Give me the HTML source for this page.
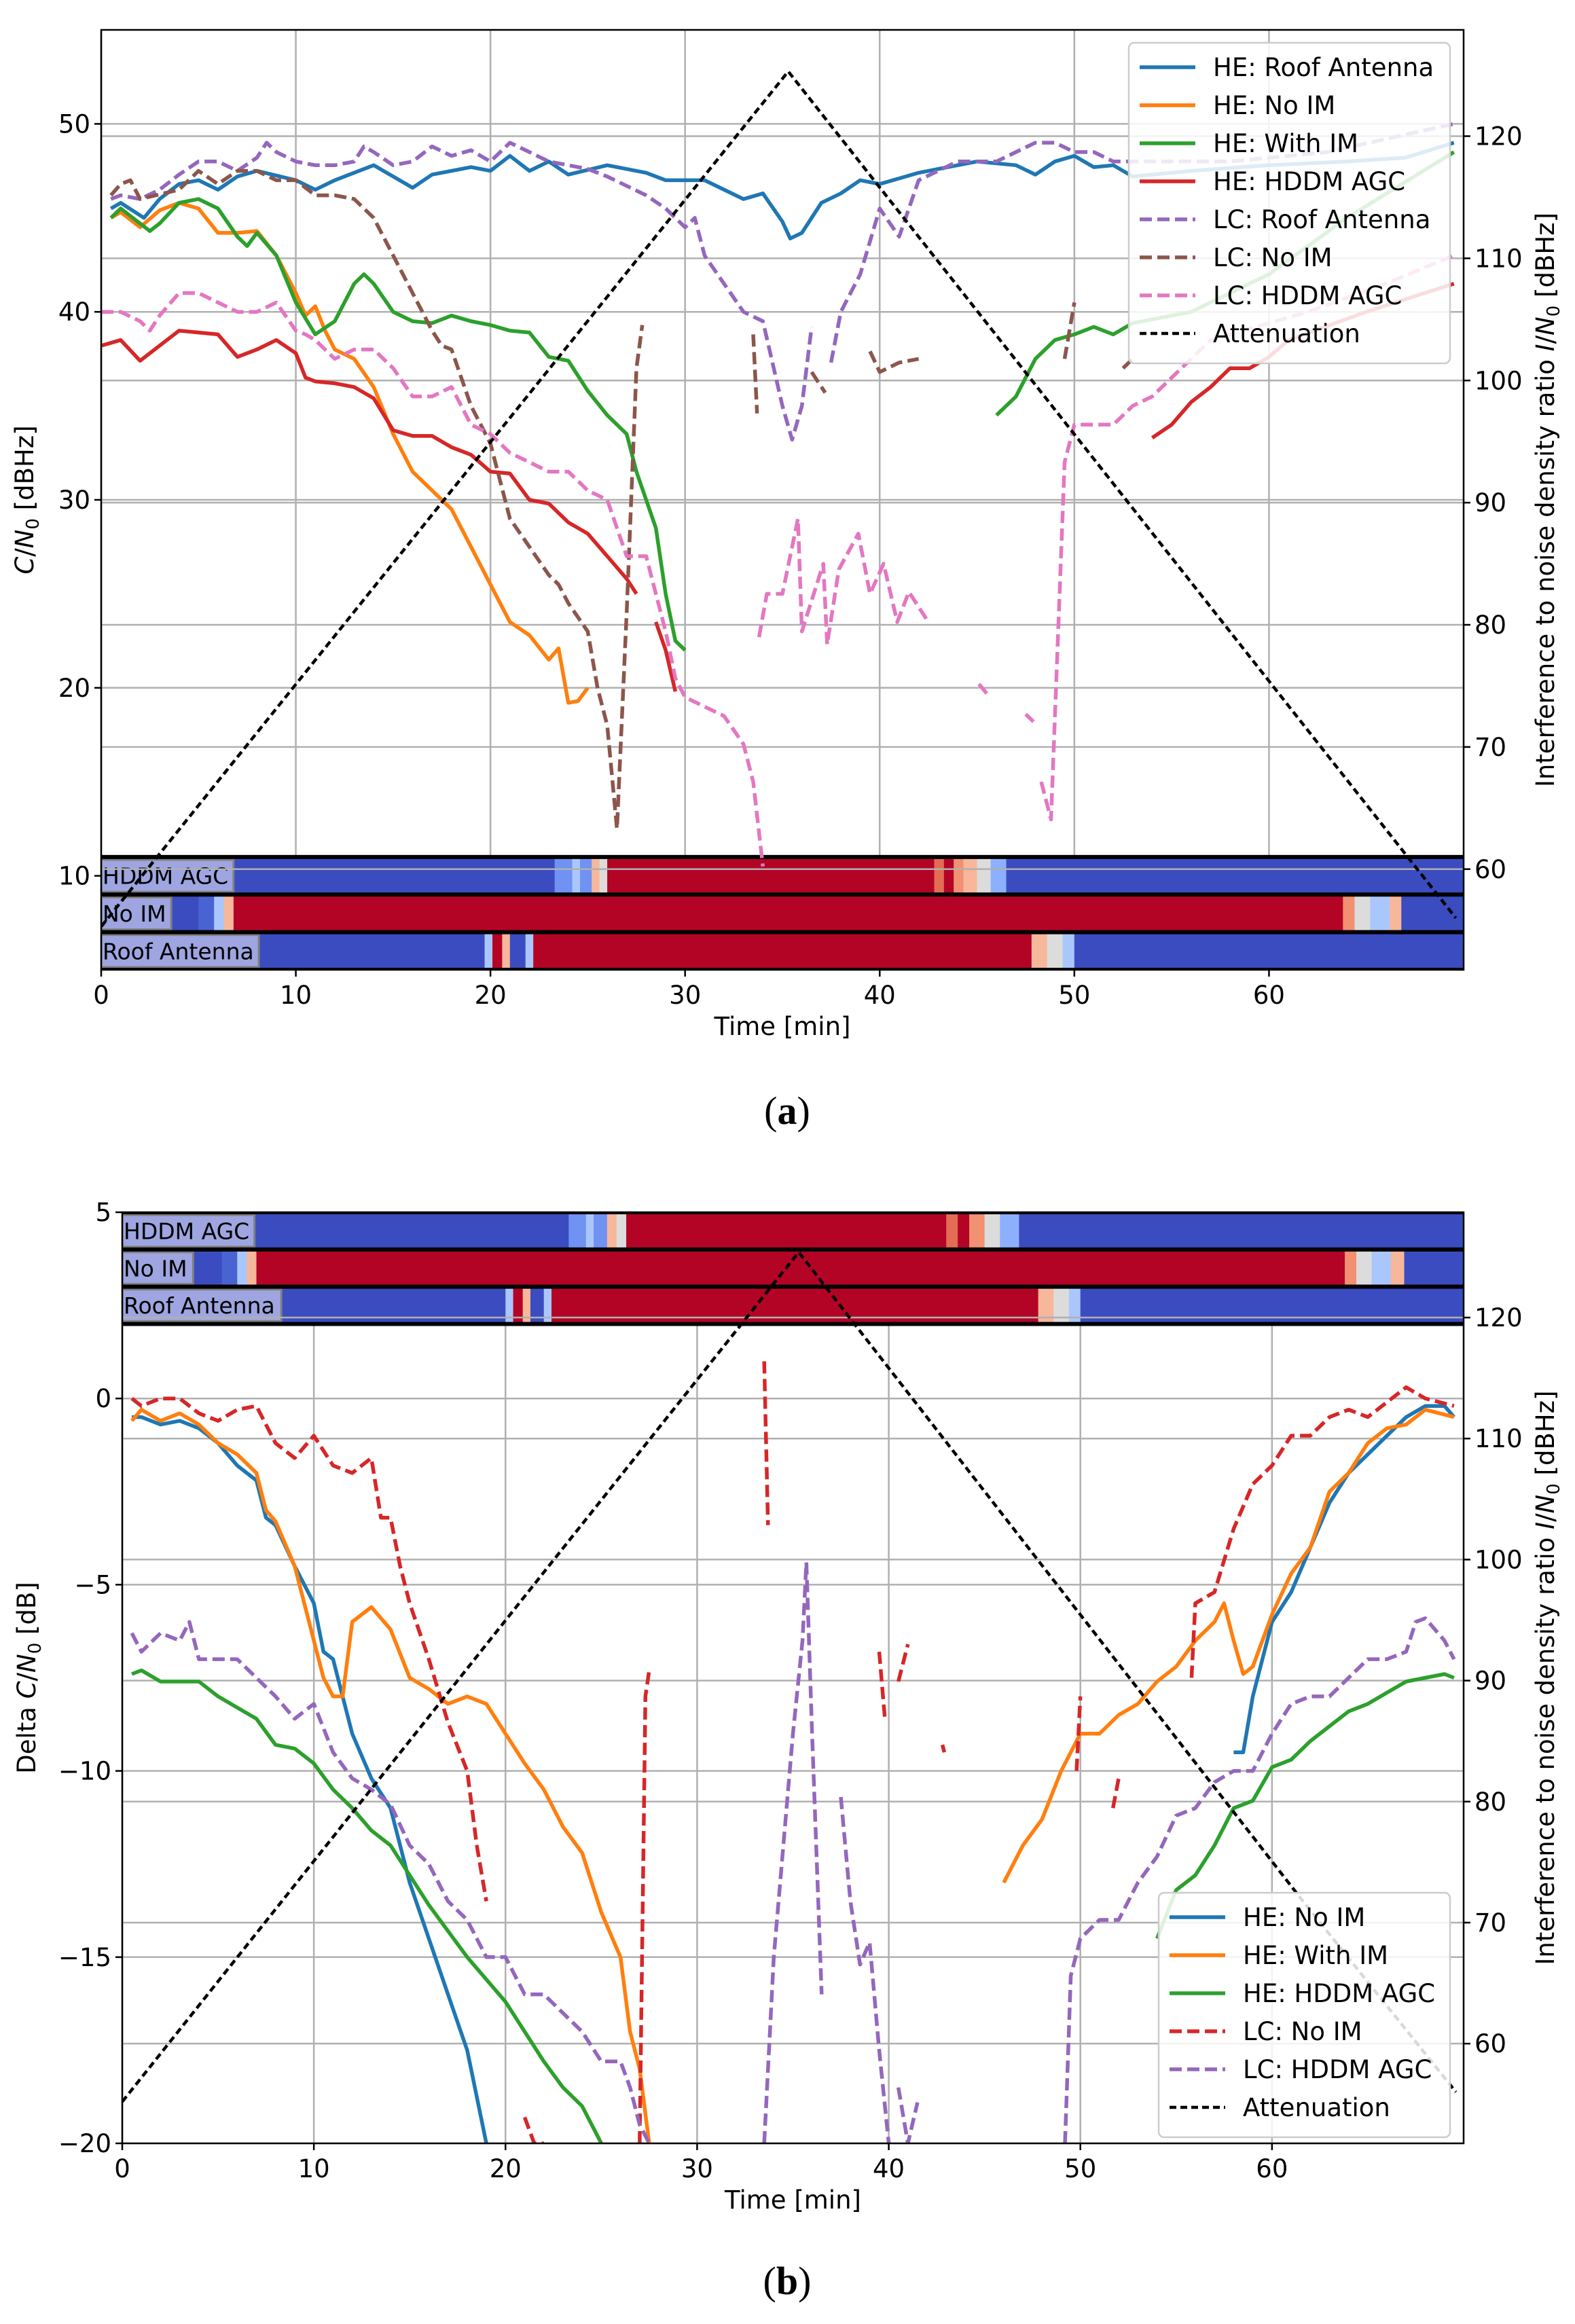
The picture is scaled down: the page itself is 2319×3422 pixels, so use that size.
<!DOCTYPE html>
<html><head><meta charset="utf-8"><style>
html,body{margin:0;padding:0;background:#fff;}
svg{display:block;font-family:"DejaVu Sans","Liberation Sans",sans-serif;}
</style></head><body>
<svg id="fig" width="2319" height="3422" viewBox="0 0 2319 3422" xmlns="http://www.w3.org/2000/svg">
<rect width="2319" height="3422" fill="#fff"/>
</svg>
<script>
// ---------- data: panel (a) ----------
const aHERoof=[[0.5,45.5],[1,45.8],[2.2,45],[3,46],[4,46.8],[5,47],[6,46.5],[7,47.2],[8,47.5],[10,47],[11,46.5],[12,47],[14,47.8],[15,47.2],[16,46.6],[17,47.3],[19,47.7],[20,47.5],[21,48.3],[22,47.5],[23,48],[24,47.3],[26,47.8],[28,47.4],[29,47],[31,47],[33,46],[34,46.3],[35,44.8],[35.4,43.9],[36,44.2],[37,45.8],[38,46.3],[39,47],[40,46.8],[42,47.4],[44,47.8],[45,48],[47,47.8],[48,47.3],[49,48],[50,48.3],[51,47.7],[52,47.8],[53,47.2],[56,47.5],[60,47.8],[64,48],[67,48.2],[69.5,49]];
const aHENoIM=[[0.5,45],[1,45.3],[2,44.5],[3,45.4],[4,45.8],[5,45.5],[6,44.2],[7,44.2],[8,44.3],[9,43],[10,41],[10.5,39.8],[11,40.3],[11.5,39],[12,38],[13,37.5],[14,36],[15,33.5],[16,31.5],[17,30.5],[18,29.5],[19,27.5],[20,25.5],[21,23.5],[22,22.8],[23,21.5],[23.5,22.1],[24,19.2],[24.5,19.3],[25,20]];
const aHEWithIM=[[0.5,45],[1,45.5],[2.5,44.3],[3,44.7],[4,45.8],[5,46],[6,45.5],[7,44],[7.5,43.5],[8,44.2],[9,43],[10,40.5],[11,38.8],[12,39.5],[13,41.5],[13.5,42],[14,41.5],[15,40],[16,39.5],[17,39.4],[18,39.8],[19,39.5],[20,39.3],[21,39],[22,38.9],[23,37.6],[24,37.4],[25,35.8],[26,34.5],[27,33.5],[27.5,31.5],[28,30],[28.5,28.5],[29,25],[29.5,22.5],[30,22],null,[46,34.5],[47,35.5],[48,37.5],[49,38.5],[50,38.8],[51,39.2],[52,38.8],[53,39.4],[56,40],[60,42],[64,45],[69.5,48.5]];
const aHEHddm=[[0,38.2],[1,38.5],[2,37.4],[3,38.2],[4,39],[5,38.9],[6,38.8],[7,37.6],[8,38],[9,38.5],[10,37.8],[10.5,36.5],[11,36.3],[12,36.2],[13,36],[14,35.4],[15,33.7],[16,33.4],[17,33.4],[18,32.8],[19,32.4],[20,31.5],[21,31.4],[22,30],[23,29.8],[24,28.8],[25,28.2],[26,27],[27,25.8],[27.5,25],null,[28.5,23.5],[29,22],[29.5,19.8],null,[54,33.3],[55,34],[56,35.2],[57,36],[58,37],[59,37],[60,37.6],[61,38.5],[65,40],[69.5,41.5]];
const aLCRoof=[[0.5,46],[1,46.2],[2,46],[3,46.5],[4,47.3],[5,48],[6,48],[7,47.5],[8,48.2],[8.5,49],[9,48.5],[10,48],[11,47.8],[12,47.8],[13,48],[13.5,48.8],[14,48.5],[15,47.8],[16,48],[17,48.8],[18,48.3],[19,48.6],[20,48],[21,49],[22,48.5],[23,48],[24,47.8],[25,47.6],[26,47.2],[27,46.7],[28,46.2],[29,45.5],[30,44.5],[30.5,45],[31,43],[32,41.5],[33,40],[34,39.5],[35,35],[35.5,33.2],[36,35],[36.5,39.2],null,[37.5,37.3],[38,40],[39,42],[40,45.5],[41,44],[42,47],[43,47.5],[44,48],[45,48],[46,48],[47,48.5],[48,49],[49,49],[50,48.5],[51,48.5],[52,48],[53,48],[58,48],[63,48.5],[69.5,50]];
const aLCNoIM=[[0.5,46.2],[1,46.8],[1.5,47],[2,46],[4,46.5],[5,47.5],[6,46.8],[7,47.5],[8,47.5],[9,47],[10,47],[11,46.2],[12,46.2],[13,46],[14,45],[15,43],[16,41],[17,39],[17.5,38.2],[18,38],[19,35],[20,33],[21,29],[22,27.5],[23,26],[23.5,25.5],[24,24.5],[25,23],[25.5,20],[26,18],[26.5,12.5],[27,24],[27.5,37],[27.8,39.3],null,[33.5,38.8],[33.7,34.6],null,[36.5,36.8],[37.2,35.7],null,[39.5,37.9],[40,36.8],[41,37.3],[42,37.5],null,[49.5,37.5],[50,40.5],null,[52.5,37],[53,37.5]];
const aLCHddm=[[0,40],[1,40],[2,39.5],[2.5,39],[3,39.8],[4,41],[5,41],[6,40.5],[7,40],[8,40],[9,40.5],[10,39],[10.5,38.8],[11,38.5],[12,37.5],[13,38],[14,38],[15,37],[16,35.5],[17,35.5],[18,36],[19,34],[20,33.5],[21,32.5],[22,32],[23,31.5],[24,31.5],[25,30.5],[26,30],[26.5,28.5],[27,27],[28,27],[28.5,25],[29,23],[29.5,20.5],[30,19.5],[31,19],[32,18.5],[33,17],[33.5,15],[34,10.5],null,[33.8,22.7],[34.2,25],[35,25],[35.8,29],[36,23],[37.1,26.6],[37.3,22.3],[37.9,26.3],[38.9,28.2],[39.5,25],[40.2,26.6],[40.9,23.5],[41.5,25.1],[42.5,23.5],null,[45.1,20.2],[45.5,19.7],null,[47.5,18.6],[47.9,18.2],null,[48.3,15],[48.8,13],[49.5,32],[50,34],[52,34],[53,35],[54,35.5],[55,36.5],[56,37.5],[57,38.5],[62,40],[66,41.5],[69.5,43]];
const aAtten=[[0,55.3],[35.3,125.3],[69.6,56]];
const aHeatHddm=[[0,23.3,"#3b4cc0"],[23.3,24.2,"#6f92f3"],[24.2,24.6,"#aac7fd"],[24.6,25.2,"#6f92f3"],[25.2,25.6,"#f7b79b"],[25.6,26,"#dddcdc"],[26,42.8,"#b40426"],[42.8,43.3,"#e36c55"],[43.3,43.8,"#b40426"],[43.8,44.3,"#f29072"],[44.3,45,"#f7b79b"],[45,45.7,"#dddcdc"],[45.7,46.5,"#8db0fe"],[46.5,70,"#3b4cc0"]];
const aHeatNoIM=[[0,5,"#3b4cc0"],[5,5.8,"#4a63d3"],[5.8,6.3,"#aac7fd"],[6.3,6.8,"#f7b79b"],[6.8,63.8,"#b40426"],[63.8,64.4,"#f29072"],[64.4,65.2,"#dddcdc"],[65.2,66.2,"#aac7fd"],[66.2,66.8,"#f7b79b"],[66.8,70,"#3b4cc0"]];
const aHeatRoof=[[0,19.7,"#3b4cc0"],[19.7,20.1,"#aac7fd"],[20.1,20.6,"#b40426"],[20.6,21,"#f7b79b"],[21,21.8,"#3b4cc0"],[21.8,22.2,"#aac7fd"],[22.2,47.8,"#b40426"],[47.8,48.6,"#f7b79b"],[48.6,49.4,"#dddcdc"],[49.4,50,"#aac7fd"],[50,70,"#3b4cc0"]];
const aHeatLabelEnds=[6.8,3.6,8.1];
const aHeatLabels=["HDDM AGC","No IM","Roof Antenna"];
const aLeftTicks=[10,20,30,40,50];
const aRightTicks=[60,70,80,90,100,110,120];
const xTicks=[0,10,20,30,40,50,60];
// ---------- data: panel (b) ----------
const bHENoIM=[[0.5,-0.5],[1,-0.5],[2,-0.7],[3,-0.6],[4,-0.8],[5,-1.2],[6,-1.8],[6.5,-2],[7,-2.2],[7.5,-3.2],[8,-3.4],[9,-4.5],[10,-5.5],[10.5,-6.8],[11,-7],[11.5,-8],[12,-9],[13,-10.2],[14,-11],[15,-13],[16,-14.5],[17,-16],[18,-17.5],[19,-20],null,[58,-9.5],[58.5,-9.5],[59,-8],[60,-6],[61,-5.2],[62,-4],[63,-2.8],[64,-2],[65,-1.5],[66,-1],[67,-0.5],[68,-0.2],[69,-0.2],[69.5,-0.5]];
const bHEWithIM=[[0.5,-0.6],[1,-0.3],[2,-0.6],[3,-0.4],[4,-0.7],[5,-1.2],[6,-1.5],[7,-2],[7.5,-3],[8,-3.3],[9,-4.5],[10,-6.5],[10.5,-7.5],[11,-8],[11.5,-8],[12,-6],[13,-5.6],[14,-6.2],[15,-7.5],[16,-7.8],[17,-8.2],[18,-8],[19,-8.2],[20,-9],[21,-9.8],[22,-10.5],[23,-11.5],[24,-12.2],[25,-13.8],[26,-15],[26.5,-17],[27,-18],[27.5,-20],null,[46,-13],[47,-12],[48,-11.3],[49,-10],[50,-9],[51,-9],[52,-8.5],[53,-8.2],[54,-7.6],[55,-7.2],[56,-6.5],[57,-6],[57.5,-5.5],[58,-6.5],[58.5,-7.4],[59,-7.2],[60,-5.8],[61,-4.7],[62,-4],[63,-2.5],[64,-2],[65,-1.2],[66,-0.8],[67,-0.7],[68,-0.3],[69.5,-0.5]];
const bHEHddm=[[0.5,-7.4],[1,-7.3],[2,-7.6],[3,-7.6],[4,-7.6],[5,-8],[6,-8.3],[7,-8.6],[8,-9.3],[9,-9.4],[10,-9.8],[11,-10.5],[12,-11],[13,-11.6],[14,-12],[15,-12.8],[16,-13.6],[17,-14.3],[18,-15],[19,-15.6],[20,-16.2],[21,-17],[22,-17.8],[23,-18.5],[24,-19],[25,-20],null,[54,-14.5],[55,-13.2],[56,-12.8],[57,-12],[58,-11],[59,-10.8],[60,-9.9],[61,-9.7],[62,-9.2],[63,-8.8],[64,-8.4],[65,-8.2],[66,-7.9],[67,-7.6],[68,-7.5],[69,-7.4],[69.5,-7.5]];
const bLCNoIM=[[0.5,0],[1,-0.2],[2,0],[3,0],[4,-0.4],[5,-0.6],[6,-0.3],[7,-0.2],[8,-1.2],[9,-1.6],[10,-1],[11,-1.8],[12,-2],[13,-1.6],[13.5,-3.2],[14,-3.2],[14.5,-4.5],[15,-5.5],[16,-7],[17,-8.7],[18,-10],[18.5,-12],[19,-13.5],null,[21,-19.3],[21.5,-20],[22,-20],null,[27,-20],[27.3,-8],[27.5,-7.3],null,[33.5,1],[33.7,-3.4],null,[39.5,-6.8],[39.8,-8.6],null,[40.5,-7.6],[41,-6.6],null,[42.8,-9.3],[42.9,-9.5],null,[49.8,-10],[50,-8],null,[51.7,-11],[52,-10.2],null,[55.8,-7.5],[56,-5.5],[57,-5.2],[58,-3.5],[59,-2.3],[60,-1.8],[61,-1],[62,-1],[63,-0.5],[64,-0.3],[65,-0.5],[66,-0.1],[67,0.3],[68,0],[69.5,-0.2]];
const bLCHddm=[[0.5,-6.3],[1,-6.8],[2,-6.3],[3,-6.5],[3.5,-6],[4,-7],[5,-7],[6,-7],[7,-7.5],[8,-8],[9,-8.6],[10,-8.2],[11,-9.5],[12,-10.2],[13,-10.5],[14,-10.9],[15,-12],[16,-12.5],[17,-13.5],[18,-14],[19,-15],[20,-15],[21,-16],[22,-16],[23,-16.5],[24,-17],[25,-17.8],[26,-17.8],[26.5,-18.5],[27,-19.5],[27.5,-20],null,[33.5,-20],[34,-15],[34.5,-12],[35,-9],[35.5,-6.5],[35.7,-4.4],[36,-9],[36.5,-16],null,[37.5,-10.7],[38,-13.5],[38.5,-15.2],[39,-14.6],[39.5,-17.5],[40,-20],null,[40.5,-18.5],[41,-20],[41.5,-18.9],null,[49.2,-20],[49.5,-15.5],[50,-14.5],[51,-14],[52,-14],[53,-13],[54,-12.3],[55,-11.2],[56,-11],[57,-10.3],[58,-10],[59,-10],[60,-9],[61,-8.2],[62,-8],[63,-8],[64,-7.5],[65,-7],[66,-7],[67,-6.8],[67.5,-6],[68,-5.9],[69,-6.5],[69.5,-7]];
const bAtten=[[0,55.2],[35.3,125.4],[61.5,72],[69.6,56]];
const bHeatHddm=[[0,23.3,"#3b4cc0"],[23.3,24.2,"#6f92f3"],[24.2,24.6,"#aac7fd"],[24.6,25.3,"#6f92f3"],[25.3,25.8,"#f7b79b"],[25.8,26.3,"#dddcdc"],[26.3,43,"#b40426"],[43,43.6,"#e36c55"],[43.6,44.2,"#b40426"],[44.2,45,"#f29072"],[45,45.8,"#dddcdc"],[45.8,46.8,"#8db0fe"],[46.8,70,"#3b4cc0"]];
const bHeatNoIM=[[0,5.2,"#3b4cc0"],[5.2,6,"#4a63d3"],[6,6.5,"#aac7fd"],[6.5,7,"#f7b79b"],[7,63.8,"#b40426"],[63.8,64.4,"#f29072"],[64.4,65.2,"#dddcdc"],[65.2,66.2,"#aac7fd"],[66.2,66.9,"#f7b79b"],[66.9,70,"#3b4cc0"]];
const bHeatRoof=[[0,20,"#3b4cc0"],[20,20.4,"#aac7fd"],[20.4,20.9,"#b40426"],[20.9,21.3,"#f7b79b"],[21.3,22,"#3b4cc0"],[22,22.4,"#aac7fd"],[22.4,47.8,"#b40426"],[47.8,48.6,"#f7b79b"],[48.6,49.4,"#dddcdc"],[49.4,50,"#aac7fd"],[50,70,"#3b4cc0"]];
const bHeatLabelEnds=[6.9,3.7,8.3];
const bLeftTicks=[-20,-15,-10,-5,0,5];

const NS="http://www.w3.org/2000/svg";
const svg=document.getElementById('fig');
function mk(tag,attrs,parent){const e=document.createElementNS(NS,tag);for(const k in attrs)e.setAttribute(k,attrs[k]);(parent||svg).appendChild(e);return e;}
function pathD(pts,X,Y){let d="",start=true;for(const p of pts){if(!p){start=true;continue;}d+=(start?"M":"L")+X(p[0]).toFixed(1)+","+Y(p[1]).toFixed(1);start=false;}return d;}

function panel(P){
  const X=t=>P.L+(t-0)/(70-0)*(P.R-P.L);
  const Y=v=>P.B-(v-P.ymin)/(P.ymax-P.ymin)*(P.B-P.T);
  const Y2=v=>P.B-(v-51.76)/(128.7-51.76)*(P.B-P.T);
  const g=mk('g',{});
  
  
  const clipId=P.name+'-clip';
  const cp=mk('clipPath',{id:clipId},g);mk('rect',{x:P.L,y:P.T,width:P.R-P.L,height:P.B-P.T},cp);
  const grid=mk('g',{stroke:'#b0b0b0','stroke-width':2.5},g);
  
  
  for(const t of xTicks)mk('line',{x1:X(t),x2:X(t),y1:P.T,y2:P.B},grid);
  for(const v of P.leftTicks)mk('line',{x1:P.L,x2:P.R,y1:Y(v),y2:Y(v)},grid);
  const bands=P.heat;
  for(let i=0;i<3;i++){
    const top=P.heatTop-i*P.bandH, bot=top-P.bandH;
    const hb=mk('g',{'clip-path':`url(#${clipId})`},g);
    
    
    for(const s of bands[i]){mk('rect',{x:X(s[0]),y:Y(top),width:X(s[1])-X(s[0])+0.8,height:Y(bot)-Y(top),fill:s[2]},hb);}
    mk('rect',{x:X(0),y:Y(top)+4,width:X(P.labelEnds[i])-X(0),height:Y(bot)-Y(top)-8,fill:'#9ea5e0',stroke:'#808080','stroke-width':3},hb);
    const tx=mk('text',{x:X(0)+2,y:(Y(top)+Y(bot))/2+12,'font-size':33,fill:'#000'},hb);tx.textContent=aHeatLabels[i];
    
    
    for(const yy of [top,bot])mk('line',{x1:P.L,x2:P.R,y1:Y(yy),y2:Y(yy),stroke:'#000','stroke-width':6},hb);
  }
  const grid2=mk('g',{stroke:'#b0b0b0','stroke-width':2.5},g);
  
  
  for(const v of aRightTicks)mk('line',{x1:P.L,x2:P.R,y1:Y2(v),y2:Y2(v)},grid2);
  const sg=mk('g',{'clip-path':`url(#${clipId})`,fill:'none','stroke-linejoin':'round'},g);
  for(const s of P.series){
    const p=mk('path',{d:pathD(s.d,X,s.right?Y2:Y),stroke:s.c,'stroke-width':s.right?4.5:5.5,'stroke-dasharray':s.dash?(s.right?'10,6':'18,8'):'none'},sg);
    
    
  }
  mk('rect',{x:P.L,y:P.T,width:P.R-P.L,height:P.B-P.T,fill:'none',stroke:'#000','stroke-width':2.5},g);
  const tk=mk('g',{'font-size':37,fill:'#000'},g);
  for(const t of xTicks){mk('line',{x1:X(t),x2:X(t),y1:P.B,y2:P.B+10,stroke:'#000','stroke-width':2.5},tk);
    const e=mk('text',{x:X(t),y:P.B+50,'text-anchor':'middle'},tk);e.textContent=t;
    }
  for(const v of P.leftTicks){mk('line',{x1:P.L-10,x2:P.L,y1:Y(v),y2:Y(v),stroke:'#000','stroke-width':2.5},tk);
    const e=mk('text',{x:P.L-16,y:Y(v)+13,'text-anchor':'end'},tk);e.textContent=String(v).replace('-','\u2212');
    }
  for(const v of aRightTicks){mk('line',{x1:P.R,x2:P.R+10,y1:Y2(v),y2:Y2(v),stroke:'#000','stroke-width':2.5},tk);
    const e=mk('text',{x:P.R+16,y:Y2(v)+13},tk);e.textContent=v;
    }
  const xl=mk('text',{x:(P.L+P.R)/2,y:P.B+96,'text-anchor':'middle','font-size':37},g);xl.textContent='Time [min]';
  
  const cy=(P.T+P.B)/2;
  const yl=mk('text',{x:0,y:0,'text-anchor':'middle','font-size':37,transform:`translate(${P.L-P.ylx},${cy}) rotate(-90)`},g);
  yl.innerHTML=P.ylab;
  
  const yr=mk('text',{x:0,y:0,'text-anchor':'middle','font-size':37,transform:`translate(2288,${cy}) rotate(-90)`},g);
  yr.innerHTML='Interference to noise density ratio <tspan font-style="italic">I</tspan>/<tspan font-style="italic">N</tspan><tspan font-size="26" dy="8">0</tspan><tspan dy="-8"> [dBHz]</tspan>';
  
  const lg=mk('g',{},g);
  
  mk('rect',{x:P.lgx,y:P.lgy,width:P.lgw,height:24+P.series.length*56,rx:8,fill:'#fff','fill-opacity':0.85,stroke:'#ccc','stroke-width':2.5},lg);
  P.series.forEach((s,i)=>{const yy=P.lgy+36+i*56;
    const en=mk('g',{},lg);
    mk('line',{x1:P.lgx+16,x2:P.lgx+98,y1:yy,y2:yy,stroke:s.c,'stroke-width':s.right?4.5:5.5,'stroke-dasharray':s.dash?(s.right?'10,6':'18,8'):'none'},en);
    const t=mk('text',{x:P.lgx+124,y:yy+13,'font-size':37},en);t.textContent=s.n;});
  const cap=mk('text',{x:1159,y:P.capY,'text-anchor':'middle','font-size':58,'font-family':'Liberation Serif, serif'},g);
  cap.innerHTML=P.cap;
}

panel({name:'panel-a',L:149,R:2155,T:44,B:1428,ymin:5,ymax:55,leftTicks:aLeftTicks,heatTop:11,bandH:2,
  heat:[aHeatHddm,aHeatNoIM,aHeatRoof],labelEnds:aHeatLabelEnds,ylx:100,
  ylab:'<tspan font-style="italic">C</tspan>/<tspan font-style="italic">N</tspan><tspan font-size="26" dy="8">0</tspan><tspan dy="-8"> [dBHz]</tspan>',
  lgx:1662,lgy:63,lgw:473,capY:1655,cap:'(<tspan font-weight="bold">a</tspan>)',
  series:[{n:'HE: Roof Antenna',c:'#1f77b4',d:aHERoof},{n:'HE: No IM',c:'#ff7f0e',d:aHENoIM},{n:'HE: With IM',c:'#2ca02c',d:aHEWithIM},{n:'HE: HDDM AGC',c:'#d62728',d:aHEHddm},
  {n:'LC: Roof Antenna',c:'#9467bd',d:aLCRoof,dash:1},{n:'LC: No IM',c:'#8c564b',d:aLCNoIM,dash:1},{n:'LC: HDDM AGC',c:'#e377c2',d:aLCHddm,dash:1},{n:'Attenuation',c:'#000',d:aAtten,dash:1,right:1}]});
panel({name:'panel-b',L:180,R:2155,T:1785,B:3156,ymin:-20,ymax:5,leftTicks:bLeftTicks,heatTop:5,bandH:1,
  heat:[bHeatHddm,bHeatNoIM,bHeatRoof],labelEnds:bHeatLabelEnds,ylx:128,
  ylab:'Delta <tspan font-style="italic">C</tspan>/<tspan font-style="italic">N</tspan><tspan font-size="26" dy="8">0</tspan><tspan dy="-8"> [dB]</tspan>',
  lgx:1706,lgy:2787,lgw:429,capY:3378,cap:'(<tspan font-weight="bold">b</tspan>)',
  series:[{n:'HE: No IM',c:'#1f77b4',d:bHENoIM},{n:'HE: With IM',c:'#ff7f0e',d:bHEWithIM},{n:'HE: HDDM AGC',c:'#2ca02c',d:bHEHddm},
  {n:'LC: No IM',c:'#d62728',d:bLCNoIM,dash:1},{n:'LC: HDDM AGC',c:'#9467bd',d:bLCHddm,dash:1},{n:'Attenuation',c:'#000',d:bAtten,dash:1,right:1}]});
</script>
</body></html>
